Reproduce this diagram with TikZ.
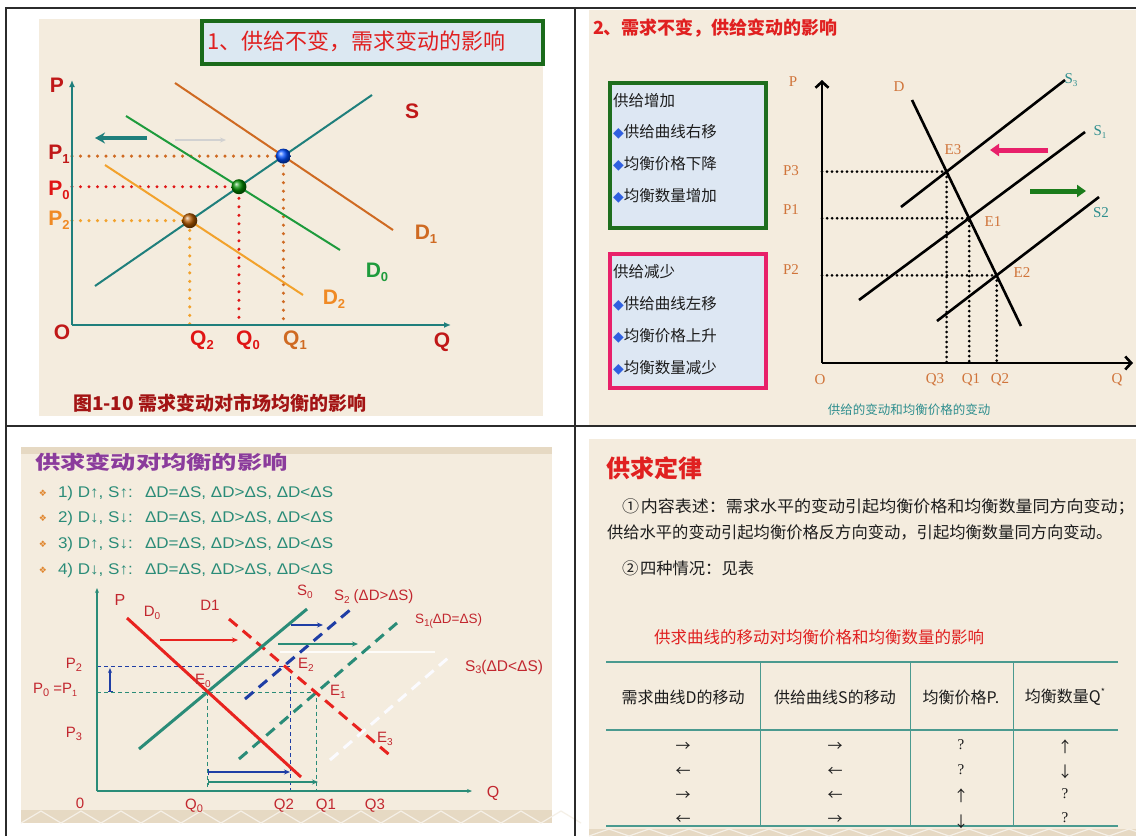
\documentclass[tikz,border=0pt]{standalone}
\usepackage{fontspec}
\usepackage{graphicx}
\setmainfont{Liberation Serif}
\newfontfamily\sans{Liberation Sans}
\newfontfamily\cjk{Noto Sans CJK SC}
\newfontfamily\dv{DejaVu Sans}
\usetikzlibrary{arrows.meta,calc}
\newcommand\fs[1]{\fontsize{#1}{#1}\selectfont}
\newcommand\lo[2]{\raisebox{-0.18em}{\fs{#1}#2}}
\newcommand\wide[1]{\scalebox{1.1}[1]{#1}}
\definecolor{bgc}{HTML}{F4ECDE}
\definecolor{framec}{HTML}{2B2B2B}
\definecolor{tealA}{HTML}{1F7F7C}
\definecolor{dOne}{HTML}{CF6A22}
\definecolor{dZero}{HTML}{1E9B3C}
\definecolor{dTwo}{HTML}{F2A22C}
\definecolor{darkred}{HTML}{C01818}
\definecolor{redZ}{HTML}{E01515}
\definecolor{orngL}{HTML}{F08A24}
\definecolor{ttlgreen}{HTML}{1A6A1A}
\definecolor{ttlblue}{HTML}{DCE8F2}
\definecolor{titred}{HTML}{E02020}
\definecolor{pTwoLab}{HTML}{D0743A}
\definecolor{pTwoTeal}{HTML}{2E8E8E}
\definecolor{pinkc}{HTML}{E8206A}
\definecolor{dgreen}{HTML}{1E6E1E}
\definecolor{boxfill}{HTML}{DDE7F3}
\definecolor{diablue}{HTML}{3060E0}
\definecolor{pThTeal}{HTML}{2A8C78}
\definecolor{pThRed}{HTML}{E8231F}
\definecolor{pThBlue}{HTML}{1F3EA5}
\definecolor{pThLab}{HTML}{C2272F}
\definecolor{purp}{HTML}{8B3C9C}
\definecolor{bul}{HTML}{E0862E}
\definecolor{tline}{HTML}{4A9A8F}
\definecolor{band}{HTML}{E6D9C3}
\definecolor{txt}{HTML}{1C1C1C}
\newcommand\dia{{\dv\fs{14}\textcolor{diablue}{◆}}}
\newcommand\bull{{\dv\fs{9}\textcolor{bul}{❖}}}
\begin{document}
\begin{tikzpicture}[x=1pt,y=-1pt,
  every node/.style={inner sep=0pt,outer sep=0pt},
  frame/.style={draw=framec,line width=1.5pt},
  axisA/.style={draw=tealA,line width=2pt,-{Latex[length=7pt,width=6pt]}},
  labA/.style={font=\sans\bfseries\fs{21}},
  dotA/.style={line width=3.4pt,line cap=round,dash pattern=on 0pt off 8.5pt},
  axisB/.style={draw=black,line width=2.6pt,-{Straight Barb[length=6pt,width=13pt,line width=2.6pt]}},
  lineB/.style={draw=black,line width=2.6pt},
  dotB/.style={draw=black,line width=3pt,line cap=round,dash pattern=on 0pt off 5pt},
  labB/.style={font=\fs{15},text=pTwoLab},
  bxt/.style={anchor=west,font=\cjk\fs{15.5},text=txt},
  axisC/.style={draw=pThTeal,line width=1.4pt,-{Stealth[length=5pt,width=4pt]}},
  labC/.style={font=\sans\fs{15},text=pThLab},
  dashC/.style={line width=3pt,dash pattern=on 11pt off 7pt},
  thinC/.style={line width=1pt,dash pattern=on 4pt off 3pt},
  arrC/.style={line width=1.5pt,-{Stealth[length=6pt,width=5pt]}},
  barC/.style={line width=1.5pt,{Bar[width=6pt]}-{Stealth[length=6pt,width=5pt]}},
  lineC/.style={anchor=west,font=\sans\fs{15.5},text=pThTeal},
  tblh/.style={font=\cjk\fs{16},text=txt},
  tblr/.style={font=\cjk\fs{15},text=txt},
  tblq/.style={font=\fs{15},text=txt},
  para/.style={anchor=west,font=\cjk\fs{16.3},text=txt}
]
\fill[white] (0,0) rectangle (1136,836);
\useasboundingbox (0,0) rectangle (1136,836);
% backgrounds
\fill[bgc] (39,19) rectangle (543,416);
\fill[bgc] (589,10) rectangle (1136,425);
\fill[bgc] (21,447) rectangle (552,823);
\fill[bgc] (589,439) rectangle (1136,836);
\fill[band] (21,447) rectangle (552,454);
\fill[band] (21,810) rectangle (552,823);
\foreach \i in {21,61,...,541}{\draw[white!60!band,line width=1.2pt] (\i,823) -- ++(20,-12) -- ++(20,12);}
\fill[band] (589,829) rectangle (1136,836);
\foreach \i in {589,629,...,1129}{\draw[white!60!band,line width=1.2pt] (\i,836) -- ++(20,-7) -- ++(20,7);}
% frame
\draw[frame] (6,836) -- (6,8) -- (1136,8);
\draw[frame] (575,8) -- (575,836);
\draw[frame] (6,426) -- (1136,426);

%================ Panel 1
\draw[line width=4pt,draw=ttlgreen,fill=ttlblue] (202,21) rectangle (543,64);
\node[anchor=west,text=titred,font=\cjk\fs{22}] (t1) at (207,41) {1、供给不变，需求变动的影响};
\coordinate (o1) at (72,325);
\coordinate (s1a) at (95,286); \coordinate (s1b) at (372,95);
\coordinate (d1a) at (175,83); \coordinate (d1b) at (393,230);
\coordinate (d0a) at (126,116); \coordinate (d0b) at (340,250);
\coordinate (d2a) at (105,165); \coordinate (d2b) at (303,295);
\coordinate (eA1) at (intersection of s1a--s1b and d1a--d1b);
\coordinate (eA0) at (intersection of s1a--s1b and d0a--d0b);
\coordinate (eA2) at (intersection of s1a--s1b and d2a--d2b);
\draw[dotA,draw=dOne] (eA1 -| o1) -- (eA1) -- (eA1 |- o1);
\draw[dotA,draw=redZ] (eA0 -| o1) -- (eA0) -- (eA0 |- o1);
\draw[dotA,draw=dTwo] (eA2 -| o1) -- (eA2) -- (eA2 |- o1);
\draw[axisA] (o1) -- (72,80);
\draw[axisA] (o1) -- (451,325);
\draw[tealA,line width=2pt] (s1a) -- (s1b);
\draw[dOne,line width=2pt] (d1a) -- (d1b);
\draw[dZero,line width=2pt] (d0a) -- (d0b);
\draw[dTwo,line width=2pt] (d2a) -- (d2b);
\shade[ball color=blue!70!cyan] (eA1) circle[radius=7.5pt];
\shade[ball color=green!55!black] (eA0) circle[radius=7.5pt];
\shade[ball color=orange!70!black] (eA2) circle[radius=7.5pt];
\draw[tealA,line width=3.5pt,-{Stealth[length=10pt,width=11pt]}] (147,138) coordinate (la1) -- (95,138) coordinate (la2);
\draw[black!18,line width=2pt,-{Stealth[length=6pt,width=5pt]}] (175,140) coordinate (ga1) -- (226,140) coordinate (ga2);
\node[labA,text=darkred] (lP) at (57,85) {P};
\node[labA,text=darkred] (lP1) at (59,154) {P\lo{13}{1}};
\node[labA,text=redZ] (lP0) at (59,190) {P\lo{13}{0}};
\node[labA,text=orngL] (lP2) at (59,220) {P\lo{13}{2}};
\node[labA,text=darkred] (lO) at (62,332) {O};
\node[labA,text=redZ] (lQ2) at (202,340) {Q\lo{13}{2}};
\node[labA,text=redZ] (lQ0) at (248,340) {Q\lo{13}{0}};
\node[labA,text=dOne] (lQ1) at (295,340) {Q\lo{13}{1}};
\node[labA,text=darkred] (lQ) at (442,342) {Q};
\node[labA,text=darkred] (lS) at (412,111) {S};
\node[labA,text=dOne] (lD1) at (426,234) {D\lo{13}{1}};
\node[labA,text=dZero] (lD0) at (377,272) {D\lo{13}{0}};
\node[labA,text=orngL] (lD2) at (334,299) {D\lo{13}{2}};
\node[anchor=west,text=darkred!85!black,font=\cjk\bfseries\fs{19}] (cap1) at (73,403) {图1-10\hspace{5pt}需求变动对市场均衡的影响};

%================ Panel 2
\node[anchor=west,text=titred,font=\cjk\bfseries\fs{18}] (t2) at (593,28) {2、需求不变，供给变动的影响};
\draw[line width=4pt,draw=dgreen,fill=boxfill] (610,83) rectangle (766,228);
\draw[line width=4pt,draw=pinkc,fill=boxfill] (610,254) rectangle (766,388);
\node[bxt] (g0) at (613,101) {供给增加};
\node[bxt] (g1) at (613,132) {{\dia}供给曲线右移};
\node[bxt] (g2) at (613,164) {{\dia}均衡价格下降};
\node[bxt] (g3) at (613,196) {{\dia}均衡数量增加};
\node[bxt] (k0) at (613,272) {供给减少};
\node[bxt] (k1) at (613,304) {{\dia}供给曲线左移};
\node[bxt] (k2) at (613,336) {{\dia}均衡价格上升};
\node[bxt] (k3) at (613,368) {{\dia}均衡数量减少};
\coordinate (o2) at (822,363);
\coordinate (dBa) at (912,100); \coordinate (dBb) at (1021,326);
\coordinate (sB3a) at (901,207); \coordinate (sB3b) at (1065,80);
\coordinate (sB1a) at (859,300); \coordinate (sB1b) at (1085,132);
\coordinate (sB2a) at (937,321); \coordinate (sB2b) at (1099,197);
\coordinate (eB3) at (intersection of dBa--dBb and sB3a--sB3b);
\coordinate (eB1) at (intersection of dBa--dBb and sB1a--sB1b);
\coordinate (eB2) at (intersection of dBa--dBb and sB2a--sB2b);
\draw[dotB] (eB3 -| o2) -- (eB3) -- (eB3 |- o2);
\draw[dotB] (eB1 -| o2) -- (eB1) -- (eB1 |- o2);
\draw[dotB] (eB2 -| o2) -- (eB2) -- (eB2 |- o2);
\draw[axisB] (o2) -- (822,80);
\draw[axisB] (o2) -- (1133,363);
\draw[lineB] (dBa) -- (dBb);
\draw[lineB] (sB3a) -- (sB3b);
\draw[lineB] (sB1a) -- (sB1b);
\draw[lineB] (sB2a) -- (sB2b);
\draw[pinkc,line width=5pt,-{Triangle[length=9pt,width=12pt]}] (1048,150) coordinate (pa1) -- (990,150) coordinate (pa2);
\draw[dgreen!90!green,line width=5pt,-{Triangle[length=9pt,width=12pt]}] (1030,191) coordinate (ga3) -- (1086,191) coordinate (ga4);
\node[labB] (bP) at (793,82) {P};
\node[labB] (bP3) at (791,171) {P3};
\node[labB] (bP1) at (791,210) {P1};
\node[labB] (bP2) at (791,270) {P2};
\node[labB] (bO) at (820,380) {O};
\node[labB] (bQ3) at (935,380) {Q3};
\node[labB] (bQ1) at (971,380) {Q1};
\node[labB] (bQ2) at (1000,380) {Q2};
\node[labB] (bQ) at (1117,380) {Q};
\node[labB] (bD) at (899,87) {D};
\node[labB] (bE3) at (953,150) {E3};
\node[labB] (bE1) at (993,222) {E1};
\node[labB] (bE2) at (1022,273) {E2};
\node[labB,text=pTwoTeal] (bS3) at (1071,80) {S\lo{9}{3}};
\node[labB,text=pTwoTeal] (bS1) at (1100,132) {S\lo{9}{1}};
\node[labB,text=pTwoTeal] (bS2) at (1101,213) {S2};
\node[text=pTwoTeal,font=\cjk\fs{12.5}] (cap2) at (909,410) {供给的变动和均衡价格的变动};

%================ Panel 3
\node[anchor=west,text=purp,font=\cjk\bfseries\fs{19}] (t3) at (35,462) {\scalebox{1.33}[1]{供求变动对均衡的影响}};
\node (b1) at (43,493) {\bull}; \node[lineC] (l1) at (58,493) {\wide{1) D↑, S↑:}}; \node[lineC] (m1) at (145,493) {\wide{ΔD=ΔS, ΔD>ΔS, ΔD<ΔS}};
\node (b2) at (43,518) {\bull}; \node[lineC] (l2) at (58,518) {\wide{2) D↓, S↓:}}; \node[lineC] (m2) at (145,518) {\wide{ΔD=ΔS, ΔD>ΔS, ΔD<ΔS}};
\node (b3) at (43,544) {\bull}; \node[lineC] (l3) at (58,544) {\wide{3) D↑, S↓:}}; \node[lineC] (m3) at (145,544) {\wide{ΔD=ΔS, ΔD>ΔS, ΔD<ΔS}};
\node (b4) at (43,570) {\bull}; \node[lineC] (l4) at (58,570) {\wide{4) D↓, S↑:}}; \node[lineC] (m4) at (145,570) {\wide{ΔD=ΔS, ΔD>ΔS, ΔD<ΔS}};
\coordinate (o3) at (97,791);
\coordinate (dC0a) at (127,618); \coordinate (dC0b) at (301,777);
\coordinate (sC0a) at (139,749); \coordinate (sC0b) at (307,609);
\coordinate (dC1a) at (229,619); \coordinate (dC1b) at (392,757);
\coordinate (sC2a) at (245,699); \coordinate (sC2b) at (350,610);
\coordinate (sC1a) at (239,759); \coordinate (sC1b) at (397,623);
\coordinate (sC3a) at (330,760); \coordinate (sC3b) at (448,658);
\coordinate (eC0) at (intersection of dC0a--dC0b and sC0a--sC0b);
\coordinate (eC2) at (intersection of dC1a--dC1b and sC2a--sC2b);
\coordinate (eC1) at (intersection of dC1a--dC1b and sC1a--sC1b);
\coordinate (eC3) at (intersection of dC1a--dC1b and sC3a--sC3b);
\coordinate (q2t) at (290,666);
\draw[white!85!bgc,line width=2pt] (280,652) -- (435,652);
\draw[thinC,pThBlue] (97,666) -- (q2t) -- (q2t |- o3);
\draw[thinC,pThTeal] (eC1 -| o3) -- (eC1) -- (eC1 |- o3);
\draw[thinC,pThTeal] (eC0) -- (eC0 |- o3);
\draw[axisC] (o3) -- (97,588);
\draw[axisC] (o3) -- (472,791);
\draw[dashC,white!80!blue!8] (sC3a) -- (sC3b);
\draw[dashC,pThTeal] (sC1a) -- (sC1b);
\draw[dashC,pThBlue] (sC2a) -- (sC2b);
\draw[dashC,pThRed] (dC1a) -- (dC1b);
\draw[pThTeal,line width=3pt] (sC0a) -- (sC0b);
\draw[pThRed,line width=3pt] (dC0a) -- (dC0b);
\draw[pThBlue,line width=1.3pt,{Bar[width=5pt]}-{Stealth[length=5pt,width=4pt]}] (110,692) coordinate (ua1) -- (110,668) coordinate (ua2);
\draw[arrC,pThRed] (160,640) coordinate (ra1) -- (238,640) coordinate (ra2);
\draw[arrC,pThBlue] (291,625) coordinate (ba1) -- (323,625) coordinate (ba2);
\draw[arrC,pThTeal] (278,644) coordinate (ta1) -- (358,644) coordinate (ta2);
\draw[barC,pThBlue] (eC0 |- 0,772) -- (290,772);
\draw[barC,pThTeal] (eC0 |- 0,782) -- (318,782);
\node[labC,font=\sans\fs{16}] (cP) at (120,600) {P};
\node[labC] (cD0) at (152,613) {D\lo{10}{0}};
\node[labC] (cD1) at (210,605) {D1};
\node[labC] (cS0) at (305,592) {S\lo{10}{0}};
\node[labC,anchor=west] (cS2) at (334,597) {S\lo{10}{2} (ΔD>ΔS)};
\node[labC,anchor=west,font=\sans\fs{13.5}] (cS1) at (415,621) {S\lo{10}{1(}ΔD=ΔS)};
\node[labC,anchor=west,font=\sans\fs{15.5}] (cS3) at (465,667) {S\lo{11}{3}(ΔD<ΔS)};
\node[labC] (cE0) at (203,681) {E\lo{10}{0}};
\node[labC] (cE2) at (306,665) {E\lo{10}{2}};
\node[labC] (cE1) at (338,692) {E\lo{10}{1}};
\node[labC] (cE3) at (385,739) {E\lo{10}{3}};
\node[labC] (cP2) at (74,665) {P\lo{11}{2}};
\node[labC,anchor=west] (cP0) at (33,690) {P\lo{11}{0} =P\lo{9}{1}};
\node[labC] (cP3) at (74,734) {P\lo{11}{3}};
\node[labC] (c0) at (80,803) {0};
\node[labC] (cQ0) at (194,806) {Q\lo{11}{0}};
\node[labC] (cQ2) at (284,806) {Q2};
\node[labC] (cQ1) at (326,806) {Q1};
\node[labC] (cQ3) at (375,806) {Q3};
\node[labC,font=\sans\fs{16}] (cQ) at (493,793) {Q};

%================ Panel 4
\node[anchor=west,text=titred,font=\cjk\bfseries\fs{24}] (t4) at (606,468) {供求定律};
\node[para] (pa) at (622,507) {\scalebox{1.045}[1]{\makebox[18pt][l]{①}内容表述：需求水平的变动引起均衡价格和均衡数量同方向变动；}};
\node[para] (pb) at (607,532) {供给水平的变动引起均衡价格反方向变动，引起均衡数量同方向变动。};
\node[para] (pc) at (622,568) {\makebox[18pt][l]{②}四种情况：见表};
\node[text=titred,font=\cjk\fs{16.5}] (tt) at (819,637) {供求曲线的移动对均衡价格和均衡数量的影响};
\draw[tline,line width=2pt] (606,662) -- (1118,662);
\draw[tline,line width=1.5pt] (606,730) -- (1118,730);
\draw[tline,line width=2pt] (606,826) -- (1118,826);
\foreach \xx in {760,910,1013}{\draw[tline,line width=1pt] (\xx,662) -- (\xx,826);}
\node[tblh] (h1) at (683,697) {需求曲线D的移动};
\node[tblh] (h2) at (835,697) {供给曲线S的移动};
\node[tblh] (h3) at (961,697) {均衡价格P.};
\node[tblh] (h4) at (1065,697) {均衡数量Q\raisebox{0.45em}{\fs{9}*}};
\node[tblr] (r11) at (683,747) {→}; \node[tblr] (r12) at (835,747) {→}; \node[tblq] (r13) at (961,745) {?}; \node[tblr] (r14) at (1065,747) {↑};
\node[tblr] (r21) at (683,772) {←}; \node[tblr] (r22) at (835,772) {←}; \node[tblq] (r23) at (961,770) {?}; \node[tblr] (r24) at (1065,772) {↓};
\node[tblr] (r31) at (683,796) {→}; \node[tblr] (r32) at (835,796) {←}; \node[tblr] (r33) at (961,796) {↑}; \node[tblq] (r34) at (1065,794) {?};
\node[tblr] (r41) at (683,820) {←}; \node[tblr] (r42) at (835,820) {→}; \node[tblr] (r43) at (961,822) {↓}; \node[tblq] (r44) at (1065,818) {?};
\end{tikzpicture}
\end{document}
